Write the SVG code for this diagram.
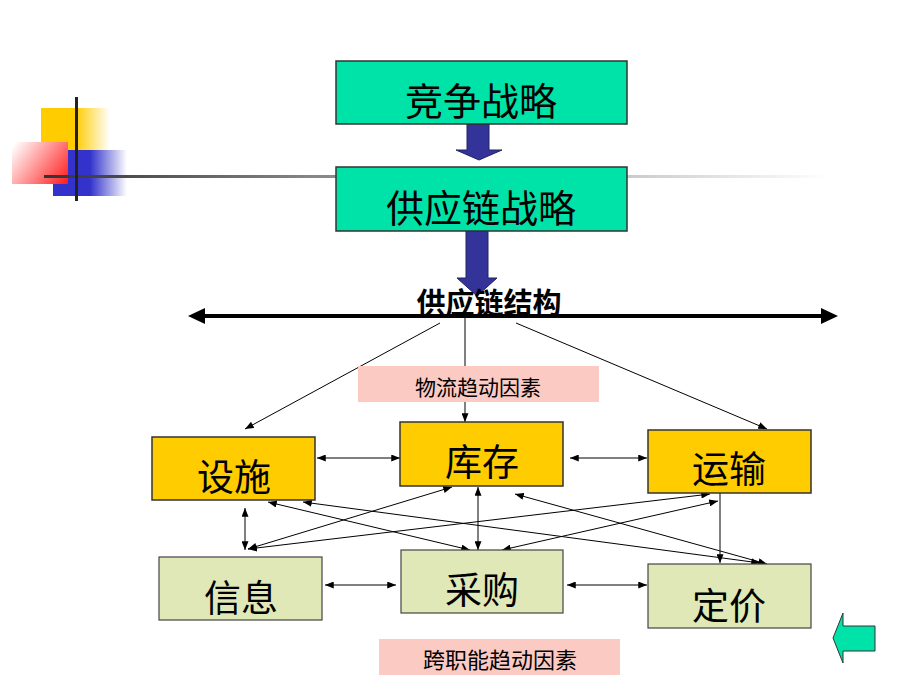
<svg xmlns="http://www.w3.org/2000/svg" width="900" height="675" viewBox="0 0 900 675">
<defs>
<style>
.t{font-family:'Noto Sans CJK SC','Noto Sans CJK JP',sans-serif;text-anchor:middle;fill:#000}
.big{font-size:38px}
.box{font-size:37px}
.lab{font-size:21px}
.teal{fill:#00e3a8;stroke:#333;stroke-width:1.5}
.yel{fill:#ffcc00;stroke:#333;stroke-width:1.5}
.grn{fill:#dfe8b6;stroke:#444;stroke-width:1.2}
.pink{fill:#fbcac3}
.c{stroke:#000;stroke-width:1;fill:none}
.d{marker-start:url(#ah);marker-end:url(#ah)}
.s{marker-end:url(#ah)}
.blue{fill:#333399;stroke:#222266;stroke-width:1}
</style>
<marker id="ah" viewBox="0 0 10 8" refX="10" refY="4" markerWidth="9" markerHeight="7" markerUnits="userSpaceOnUse" orient="auto-start-reverse"><path d="M0,0 L10,4 L0,8 z" fill="#000"/></marker>
<linearGradient id="gy" gradientUnits="userSpaceOnUse" x1="41" y1="0" x2="110" y2="0"><stop offset="0" stop-color="#ffcc00"/><stop offset="0.5" stop-color="#ffcc00"/><stop offset="1" stop-color="#ffcc00" stop-opacity="0"/></linearGradient>
<linearGradient id="gb" gradientUnits="userSpaceOnUse" x1="53" y1="0" x2="127" y2="0"><stop offset="0" stop-color="#3333cc"/><stop offset="0.5" stop-color="#3333cc"/><stop offset="1" stop-color="#3333cc" stop-opacity="0"/></linearGradient>
<linearGradient id="gp" gradientUnits="userSpaceOnUse" x1="14" y1="144" x2="68" y2="184"><stop offset="0" stop-color="#ffffff"/><stop offset="1" stop-color="#ff1a1a"/></linearGradient>
<linearGradient id="gl" gradientUnits="userSpaceOnUse" x1="44" y1="0" x2="830" y2="0"><stop offset="0" stop-color="#333"/><stop offset="0.35" stop-color="#888"/><stop offset="0.75" stop-color="#ccc"/><stop offset="1" stop-color="#fff"/></linearGradient>
</defs>
<rect width="900" height="675" fill="#fff"/>
<g id="decor">
<rect x="41" y="108" width="69" height="42" fill="url(#gy)"/>
<rect x="53" y="150" width="74" height="46" fill="url(#gb)"/>
<rect x="12" y="142" width="56" height="42" fill="url(#gp)"/>
<rect x="44" y="175" width="786" height="3" fill="url(#gl)"/>
<rect x="75" y="97" width="3" height="104" fill="#222"/>
</g>
<g id="connectors">
<path class="blue" d="M467,124 H489 V150 H502 L479,160 L456,150 H467 Z"/>
<path class="blue" d="M466,231 H488 V278 H497 L477,296 L457,278 H466 Z"/>
<line x1="200" y1="316" x2="826" y2="316" stroke="#000" stroke-width="4"/>
<polygon points="188,316 205,308 205,324" fill="#000"/>
<polygon points="838,316 821,308 821,324" fill="#000"/>
<line class="c s" x1="440" y1="323" x2="245" y2="429"/>
<line class="c s" x1="465" y1="318" x2="465" y2="422"/>
<line class="c s" x1="516" y1="323" x2="767" y2="429"/>
<line class="c d" x1="317" y1="458" x2="400" y2="458"/>
<line class="c d" x1="570" y1="458" x2="647" y2="458"/>
<line class="c d" x1="245" y1="508" x2="245" y2="550"/>
<line class="c d" x1="268" y1="502" x2="470" y2="550"/>
<line class="c d" x1="303" y1="502" x2="760" y2="563"/>
<line class="c d" x1="248" y1="549" x2="452" y2="487"/>
<line class="c d" x1="248" y1="549" x2="710" y2="494"/>
<line class="c d" x1="478" y1="487" x2="478" y2="550"/>
<line class="c d" x1="515" y1="494" x2="767" y2="564"/>
<line class="c d" x1="502" y1="550" x2="718" y2="501"/>
<line class="c s" x1="720" y1="493" x2="720" y2="563"/>
<line class="c d" x1="325" y1="585" x2="396" y2="585"/>
<line class="c d" x1="567" y1="585" x2="647" y2="585"/>
</g>
<g id="n-jingzheng"><rect class="teal" x="336" y="61" width="291" height="63"/><text class="t big" x="481" y="115">竞争战略</text></g>
<g id="n-gongyinglian"><rect class="teal" x="336" y="167" width="291" height="64"/><text class="t big" x="481" y="222">供应链战略</text></g>
<g id="n-jiegou"><text class="t" x="489" y="314" font-size="29" font-weight="bold">供应链结构</text></g>
<g id="n-wuliu"><rect class="pink" x="358" y="366" width="241" height="36"/><text class="t lab" x="478" y="395">物流趋动因素</text></g>
<g id="n-sheshi"><rect class="yel" x="152" y="437" width="163" height="63"/><text class="t box" x="234" y="491">设施</text></g>
<g id="n-kucun"><rect class="yel" x="400" y="422" width="163" height="64"/><text class="t box" x="482" y="476">库存</text></g>
<g id="n-yunshu"><rect class="yel" x="648" y="430" width="163" height="63"/><text class="t box" x="729" y="483">运输</text></g>
<g id="n-xinxi"><rect class="grn" x="159" y="557" width="163" height="63"/><text class="t box" x="241" y="612">信息</text></g>
<g id="n-caigou"><rect class="grn" x="401" y="550" width="162" height="63"/><text class="t box" x="482" y="604">采购</text></g>
<g id="n-dingjia"><rect class="grn" x="648" y="564" width="163" height="64"/><text class="t box" x="729" y="620">定价</text></g>
<g id="n-kuazhineng"><rect class="pink" x="379" y="639" width="241" height="36"/><text class="t" x="500" y="668" font-size="22">跨职能趋动因素</text></g>
<g id="n-back"><polygon points="833,638 843,613 843,626 875,626 875,651 843,651 843,663" fill="#00e3a8" stroke="#333" stroke-width="1"/></g>
</svg>
